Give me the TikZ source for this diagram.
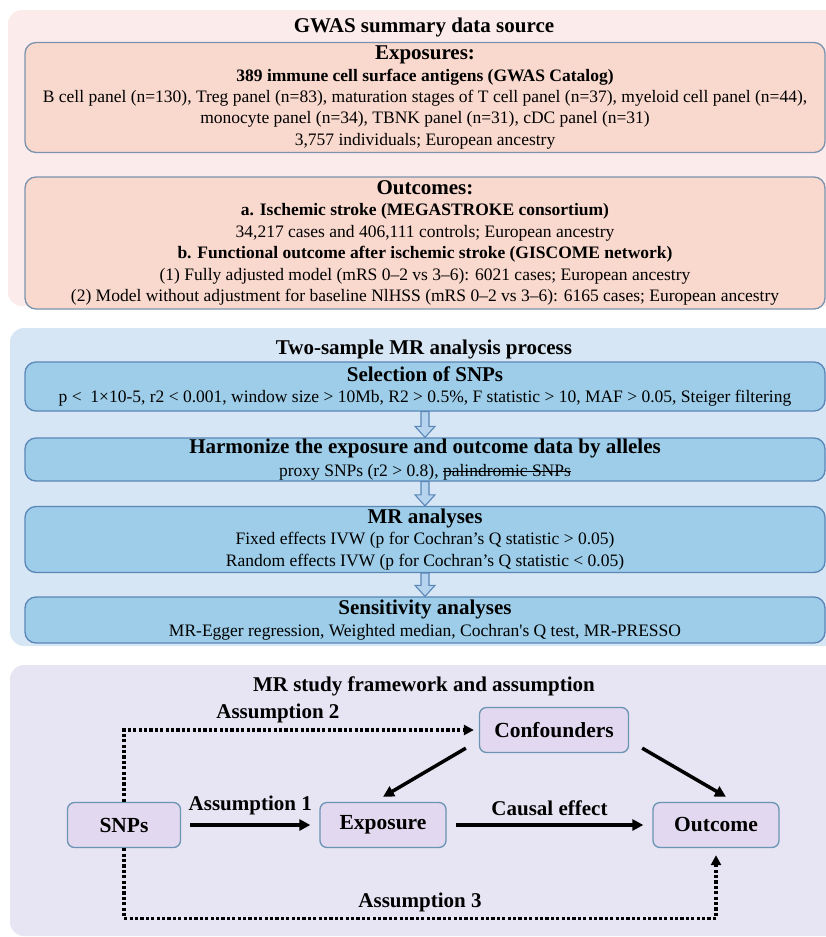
\documentclass[tikz,border=0pt]{standalone}
\usepackage{fontspec}
\setmainfont{Liberation Serif}[Ligatures=TeXOff]
\usetikzlibrary{arrows.meta,calc}

\definecolor{gwasbg}{HTML}{FCEBEB}
\definecolor{gwasfill}{HTML}{F9D8CD}
\definecolor{gwasedge}{HTML}{7A93AE}
\definecolor{mrbg}{HTML}{D6E6F4}
\definecolor{mrfill}{HTML}{9DCDE8}
\definecolor{mredge}{HTML}{5A87B8}
\definecolor{arrowfill}{HTML}{B7D4EE}
\definecolor{frambg}{HTML}{E7E5F3}
\definecolor{framfill}{HTML}{E2D8EF}
\definecolor{framedge}{HTML}{6B94B4}

\newcommand{\secfont}{\fontsize{21}{24}\selectfont\bfseries}
\newcommand{\headfont}{\fontsize{21}{23}\selectfont\bfseries}
\newcommand{\bodyfont}{\fontsize{17.5}{21.4}\selectfont}
\newcommand{\nodefont}{\fontsize{21.5}{24}\selectfont\bfseries}
\newcommand{\labfont}{\fontsize{21}{24}\selectfont\bfseries}
% struck-out words
\newcommand{\strikeword}[1]{\setbox0\hbox{#1}\rlap{\rule[0.28em]{\wd0}{0.7pt}}\box0}
% hollow block arrow between two stacked boxes
\newcommand{\flowarrow}[2]{\draw[flowarr] ($(#1.south)+(-4,0)$) -- ($(#2.north)+(-4,-11)$) -- ($(#2.north)+(-10,-11)$) -- (#2.north) -- ($(#2.north)+(10,-11)$) -- ($(#2.north)+(4,-11)$) -- ($(#1.south)+(4,0)$) -- cycle;}

\begin{document}
\begin{tikzpicture}[x=1pt,y=-1pt,
  secttitle/.style={font=\secfont},
  srcbox/.style={draw=gwasedge,line width=1.3pt,fill=gwasfill,rounded corners=11pt,minimum width=800pt,align=center,inner sep=0pt,font=\bodyfont},
  stepbox/.style={srcbox,draw=mredge,fill=mrfill},
  flowarr/.style={draw=mredge,line width=1.1pt,fill=arrowfill,line join=miter},
  framebox/.style={draw=framedge,line width=1.3pt,fill=framfill,rounded corners=7pt,inner sep=0pt,minimum height=45pt,font=\nodefont},
  causal/.style={line width=3.5pt,-{Triangle[length=11pt,width=11pt]}},
  assume/.style={line width=3.2pt,dash pattern=on 3.2pt off 2.2pt,-{Triangle[length=10pt,width=10pt]}},
  lab/.style={font=\labfont,inner sep=1pt}]
  \useasboundingbox (0,0) rectangle (826,937);

  %%%%% GWAS SOURCES %%%%%
  \fill[gwasbg,rounded corners=14pt] (8,10) rectangle (850,306);
  \node[secttitle] (gwastitle) at (424,27) {GWAS summary data source};

  \node[srcbox,minimum height=110pt] (exposrc) at (425,97.5) {%
    {\headfont Exposures:}\\
    {\bfseries 389 immune cell surface antigens (GWAS Catalog)}\\
    B cell panel (n=130), Treg panel (n=83), maturation stages of T cell panel (n=37), myeloid cell panel (n=44),\\
    monocyte panel (n=34), TBNK panel (n=31), cDC panel (n=31)\\
    3,757 individuals; European ancestry};

  \node[srcbox,minimum height=132pt] (outsrc) at (425,243) {%
    {\headfont Outcomes:}\\
    {\bfseries a. Ischemic stroke (MEGASTROKE consortium)}\\
    34,217 cases and 406,111 controls; European ancestry\\
    {\bfseries b. Functional outcome after ischemic stroke (GISCOME network)}\\
    (1) Fully adjusted model (mRS 0–2 vs 3–6): 6021 cases; European ancestry\\
    (2) Model without adjustment for baseline NlHSS (mRS 0–2 vs 3–6): 6165 cases; European ancestry};

  %%%%% MR PROCESS %%%%%
  \fill[mrbg,rounded corners=14pt] (10,328) rectangle (850,646);
  \node[secttitle] (mrtitle) at (424,349) {Two-sample MR analysis process};

  \node[stepbox,minimum height=49pt] (sel) at (425,386.5) {%
    {\headfont Selection of SNPs}\\
    p <~~1×10-5, r2 < 0.001, window size > 10Mb, R2 > 0.5\%, F statistic > 10, MAF > 0.05, Steiger filtering};
  \node[stepbox,minimum height=43pt] (harm) at (425,459.5) {%
    {\headfont Harmonize the exposure and outcome data by alleles}\\[1pt]
    proxy SNPs (r2 > 0.8), \strikeword{palindromic SNPs}};
  \node[stepbox,minimum height=66pt] (mran) at (425,539.5) {%
    {\headfont MR analyses}\\
    Fixed effects IVW (p for Cochran’s Q statistic > 0.05)\\
    Random effects IVW (p for Cochran’s Q statistic < 0.05)};
  \node[stepbox,minimum height=46pt] (sens) at (425,620) {%
    {\headfont Sensitivity analyses}\\
    MR-Egger regression, Weighted median, Cochran's Q test, MR-PRESSO};

  \flowarrow{sel}{harm}
  \flowarrow{harm}{mran}
  \flowarrow{mran}{sens}

  %%%%% FRAMEWORK %%%%%
  \fill[frambg,rounded corners=14pt] (10,665) rectangle (850,936);
  \node[secttitle] (framtitle) at (424,686) {MR study framework and assumption};

  \node[framebox,minimum width=113pt] (snp) at (124,825) {SNPs};
  \node[framebox,minimum width=126pt] (expo) at (383,825) {Exposure};
  \node[framebox,minimum width=126pt] (out) at (716,825) {Outcome};
  \node[framebox,minimum width=149pt] (conf) at (554,730) {Confounders};

  \draw[causal] ([xshift=9pt]snp.east) -- node[lab,above=7pt] {Assumption 1} ([xshift=-9pt]expo.west);
  \draw[causal] ([xshift=9pt]expo.east) -- node[lab,above=7pt] {Causal effect} ([xshift=-9pt]out.west);
  \draw[causal] ([shift={(-13pt,5pt)}]conf.south west) -- ([yshift=5pt]expo.north);
  \draw[causal] ([shift={(13pt,5pt)}]conf.south east) -- ([shift={(10pt,5pt)}]out.north);

  \draw[assume] (snp.north) |- node[lab,pos=0.72,above=4pt] {Assumption 2} ([xshift=-5pt]conf.west);
  \draw[assume] (snp.south) -- ++(0,70) -| node[lab,pos=0.25,above=4pt] {Assumption 3} ([yshift=-7pt]out.south);
\end{tikzpicture}
\end{document}
